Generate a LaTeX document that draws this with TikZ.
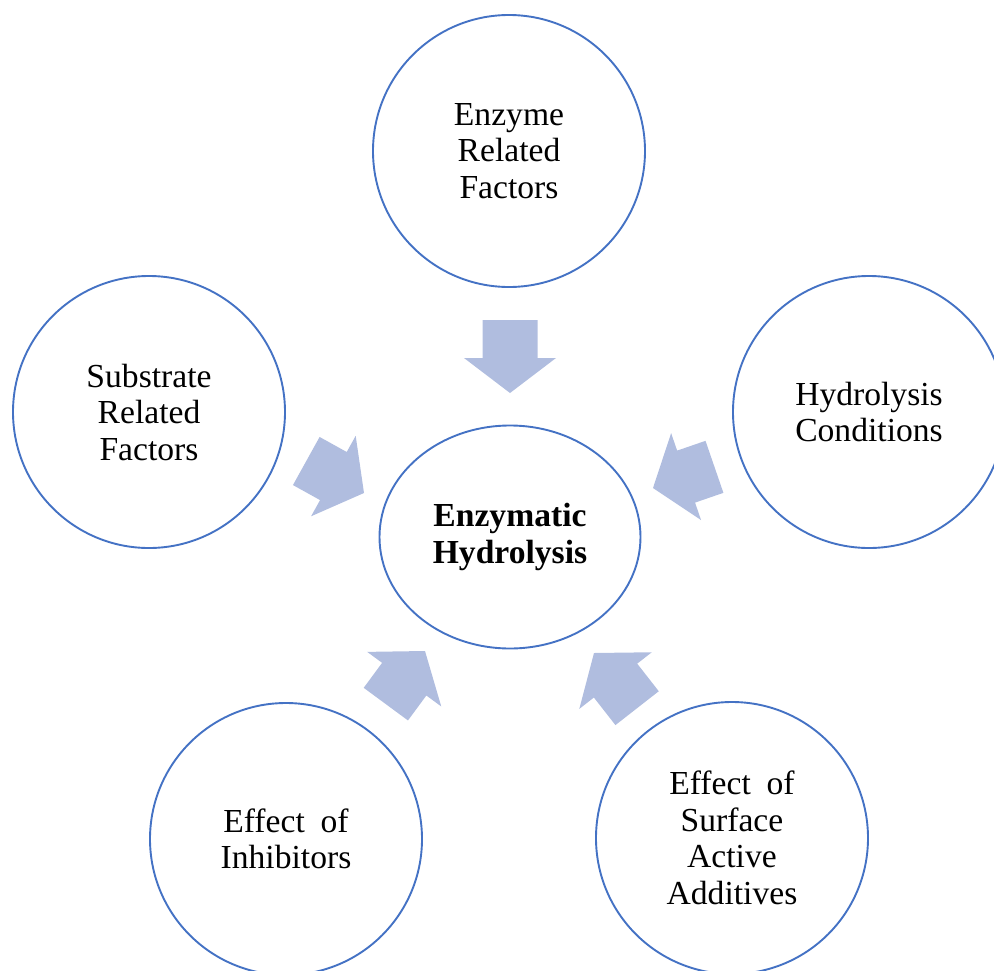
\documentclass[tikz,border=0pt]{standalone}
\usepackage{fontspec}
\setmainfont{Liberation Serif}
\usetikzlibrary{shapes.geometric}

\definecolor{ringblue}{HTML}{4472C4}
\definecolor{arrowfill}{HTML}{B0BDDF}

\tikzset{
  factor/.style={circle, draw=ringblue, line width=1.9pt, minimum size=272pt,
    inner sep=0pt, align=center, text=black,
    font=\fontsize{33.6}{36.5}\selectfont},
  hub/.style={ellipse, draw=ringblue, line width=1.9pt, minimum width=261pt,
    minimum height=223pt, inner sep=0pt, align=center, text=black,
    font=\fontsize{33.6}{36.5}\selectfont\bfseries},
  % block arrow whose tip sits at the pic origin, pointing along +x; #1 = total length
  pics/flowarrow/.style={code={
    \fill[arrowfill] (0,0) -- (-35,46) -- (-35,27.5) -- (-#1,27.5)
      -- (-#1,-27.5) -- (-35,-27.5) -- (-35,-46) -- cycle;}}
}

\begin{document}
\begin{tikzpicture}[x=1pt, y=-1pt]
  \clip (0,0) rectangle (994,970);

  % central process
  \node[hub] (hyd) at (510,537) {Enzymatic\\Hydrolysis};

  % influencing factors
  \node[factor] (enz) at (509,151) {Enzyme\\Related\\Factors};
  \node[factor] (sub) at (149,412) {Substrate\\Related\\Factors};
  \node[factor] (cond) at (869,412) {Hydrolysis\\Conditions};
  \node[factor] (inh) at (286,839) {Effect\hspace{0.22em} of\\Inhibitors};
  \node[factor] (surf) at (732,838) {Effect\hspace{0.22em} of\\Surface\\Active\\Additives};

  % block arrows pointing into the central process
  \pic[rotate=-90] at (510,393) {flowarrow=73};
  \pic[rotate=-29] at (364,493) {flowarrow=66};
  \pic[rotate=199] at (653,488) {flowarrow=65};
  \pic[rotate=53.6] at (425,651) {flowarrow=66};
  \pic[rotate=128] at (594,653) {flowarrow=70};
\end{tikzpicture}
\end{document}
